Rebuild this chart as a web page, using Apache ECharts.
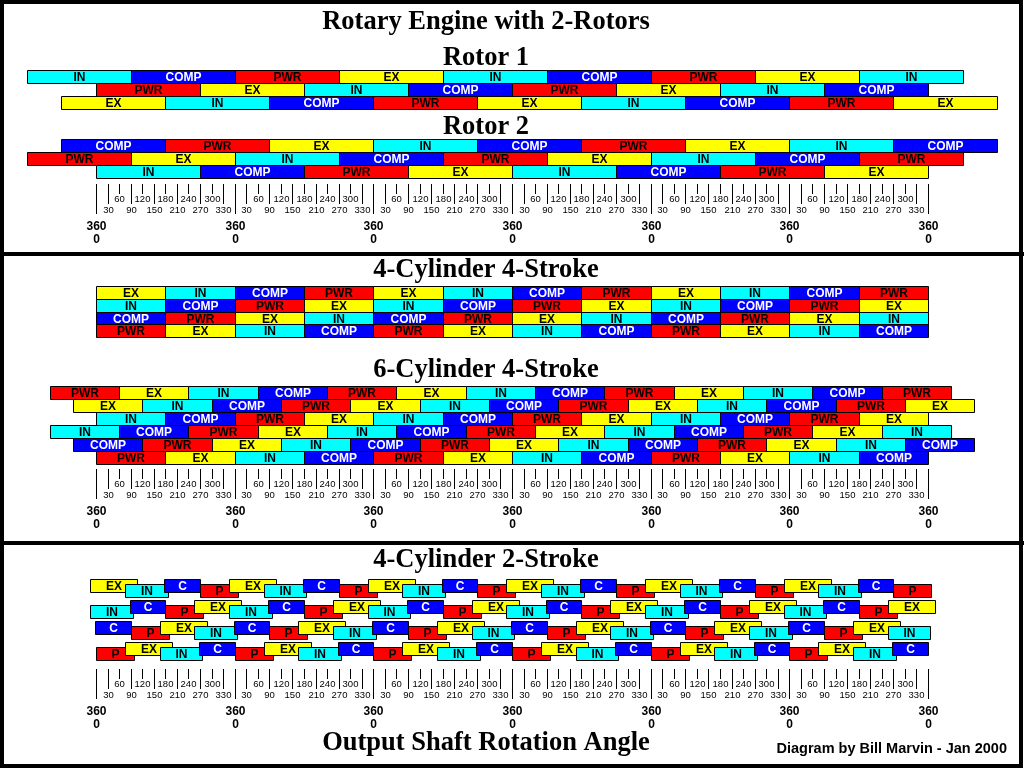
<!DOCTYPE html>
<html><head><meta charset="utf-8">
<script src="https://cdn.jsdelivr.net/npm/echarts@6/dist/echarts.min.js"></script>
<style>html,body{margin:0;padding:0;background:#fff}#c{width:1024px;height:768px}</style>
</head><body><div id="c"></div>
<script>
// ---------- data ----------
const shaftMin = 0, shaftMax = 2160;          // output shaft angle range (deg)
const rotorPhaseDeg = 270;                    // rotary: each phase lasts 270 shaft deg
const fourStrokePhaseDeg = 180;               // 4-stroke: each stroke lasts 180 deg

const rotor1Starts = [-180, 0, -90];
const rotor1Rows = [
  ['IN','COMP','PWR','EX','IN','COMP','PWR','EX','IN'],
  ['PWR','EX','IN','COMP','PWR','EX','IN','COMP'],
  ['EX','IN','COMP','PWR','EX','IN','COMP','PWR','EX']
];
const rotor2Starts = [-90, -180, 0];
const rotor2Rows = [
  ['COMP','PWR','EX','IN','COMP','PWR','EX','IN','COMP'],
  ['PWR','EX','IN','COMP','PWR','EX','IN','COMP','PWR'],
  ['IN','COMP','PWR','EX','IN','COMP','PWR','EX']
];
const cyl4Starts = [0, 0, 0, 0];
const cyl4Rows = [
  ['EX','IN','COMP','PWR','EX','IN','COMP','PWR','EX','IN','COMP','PWR'],
  ['IN','COMP','PWR','EX','IN','COMP','PWR','EX','IN','COMP','PWR','EX'],
  ['COMP','PWR','EX','IN','COMP','PWR','EX','IN','COMP','PWR','EX','IN'],
  ['PWR','EX','IN','COMP','PWR','EX','IN','COMP','PWR','EX','IN','COMP']
];
const cyl6Starts = [-120, -60, 0, -120, -60, 0];
const cyl6Rows = [
  ['PWR','EX','IN','COMP','PWR','EX','IN','COMP','PWR','EX','IN','COMP','PWR'],
  ['EX','IN','COMP','PWR','EX','IN','COMP','PWR','EX','IN','COMP','PWR','EX'],
  ['IN','COMP','PWR','EX','IN','COMP','PWR','EX','IN','COMP','PWR','EX'],
  ['IN','COMP','PWR','EX','IN','COMP','PWR','EX','IN','COMP','PWR','EX','IN'],
  ['COMP','PWR','EX','IN','COMP','PWR','EX','IN','COMP','PWR','EX','IN','COMP'],
  ['PWR','EX','IN','COMP','PWR','EX','IN','COMP','PWR','EX','IN','COMP']
];
// 4-cylinder 2-stroke: first-cycle events per cylinder [label, start, end]
const twoStrokeCycleDeg = 360;
const twoStrokeCycles = 6;
const twoStrokeCyl = [
  [['EX',-15,107],['IN',75,186],['C',177,270],['P',270,369]],
  [['IN',-15,96],['C',87,180],['P',180,279],['EX',255,377]],
  [['C',-3,90],['P',90,189],['EX',165,287],['IN',255,366]],
  [['P',0,99],['EX',75,197],['IN',165,276],['C',267,360]]
];
// ruler
const rulerCycleDeg = 360;
const rulerCycles = 6;
const rulerMinorLabels = ['30','60','90','120','150','180','210','240','270','300','330'];
const rulerMajorLabels = ['360','0'];

const titles = {
  main: 'Rotary Engine with 2-Rotors', rotor1: 'Rotor 1', rotor2: 'Rotor 2',
  c4s4: '4-Cylinder 4-Stroke', c6s4: '6-Cylinder 4-Stroke', c4s2: '4-Cylinder 2-Stroke',
  axis: 'Output Shaft Rotation Angle', credit: 'Diagram by Bill Marvin - Jan 2000'
};

// ---------- styles ----------
const fill = {IN:'#00ffff', COMP:'#0000ff', PWR:'#ff0000', EX:'#ffff00', C:'#0000ff', P:'#ff0000'};
const ink  = {IN:'#000', COMP:'#fff', PWR:'#000', EX:'#000', C:'#fff', P:'#000'};
const blockFont = 'bold 12px "Liberation Sans", Arial, sans-serif';
const upperLane = {EX:0, C:0, IN:1, P:1};

// ---------- build data ----------
function phaseBlocks(starts, rows, dur) {
  const data = [], labels = [];
  rows.forEach((row, r) => {
    row.forEach((lbl, i) => {
      const s = starts[r] + i * dur;
      data.push([s, s + dur, r]);
      labels.push(lbl);
    });
  });
  return {data, labels};
}
function twoStrokeBlocks() {
  const data = [], labels = [];
  twoStrokeCyl.forEach((evs, c) => {
    for (let k = 0; k < twoStrokeCycles; k++) {
      evs.forEach(ev => {
        data.push([ev[1] + k * twoStrokeCycleDeg, ev[2] + k * twoStrokeCycleDeg, c, upperLane[ev[0]]]);
        labels.push(ev[0]);
      });
    }
  });
  return {data, labels};
}
function rulerTicks() {
  const data = [], labels = [];
  for (let c = 0; c <= rulerCycles; c++) {
    data.push([c * rulerCycleDeg, 0]); labels.push(rulerMajorLabels);
    if (c < rulerCycles) {
      rulerMinorLabels.forEach((l, i) => {
        data.push([c * rulerCycleDeg + (i + 1) * 30, (i % 2 === 0) ? 1 : 2]);
        labels.push([l]);
      });
    }
  }
  return {data, labels};
}

const px = v => Math.round(v) + 0.5;

function blockRenderer(labels) {
  return function (params, api) {
    const p1 = api.coord([api.value(0), api.value(2)]);
    const p2 = api.coord([api.value(1), api.value(2) + 1]);
    const lbl = labels[params.dataIndex];
    const x1 = px(p1[0]), x2 = px(p2[0]), y1 = px(p1[1]), y2 = px(p2[1]);
    return {type:'group', children:[
      {type:'rect', shape:{x:x1, y:y1, width:x2-x1, height:y2-y1},
       style:{fill:fill[lbl], stroke:'#000', lineWidth:1}},
      {type:'text', style:{text:lbl, x:(x1+x2)/2, y:(y1+y2)/2 + 1, align:'center', verticalAlign:'middle',
       fill:ink[lbl], font:blockFont}}
    ]};
  };
}
function twoStrokeRenderer(labels) {
  const h = 13, laneOff = 5;
  return function (params, api) {
    const p1 = api.coord([api.value(0), api.value(2)]);
    const p2 = api.coord([api.value(1), api.value(2)]);
    const lbl = labels[params.dataIndex];
    const x1 = px(p1[0]), x2 = px(p2[0]);
    const y1 = px(p1[1] + api.value(3) * laneOff);
    return {type:'group', children:[
      {type:'rect', shape:{x:x1, y:y1, width:x2-x1, height:h},
       style:{fill:fill[lbl], stroke:'#000', lineWidth:1}},
      {type:'text', style:{text:lbl, x:(x1+x2)/2, y:y1 + h/2 + 1, align:'center', verticalAlign:'middle',
       fill:ink[lbl], font:blockFont}}
    ]};
  };
}
function rulerRenderer(labels) {
  const tickLen = [30, 20, 10];
  const majorFont = 'bold 12px "Liberation Sans", Arial, sans-serif';
  const minorFont = '9.5px "Liberation Sans", Arial, sans-serif';
  return function (params, api) {
    const p = api.coord([api.value(0), 0]);
    const top = params.coordSys.y;
    const kind = api.value(1);
    const x = px(p[0]);
    const lab = labels[params.dataIndex];
    const ch = [{type:'line', shape:{x1:x, y1:top, x2:x, y2:top + tickLen[kind]}, style:{stroke:'#000', lineWidth:1}}];
    if (kind === 0) {
      ch.push({type:'text', style:{text:lab[0], x:x, y:top + 43, align:'center', verticalAlign:'middle', fill:'#000', font:majorFont}});
      ch.push({type:'text', style:{text:lab[1], x:x, y:top + 56, align:'center', verticalAlign:'middle', fill:'#000', font:majorFont}});
    } else {
      ch.push({type:'text', style:{text:lab[0], x:x, y:top + (kind === 1 ? 26 : 15.5), align:'center', verticalAlign:'middle', fill:'#000', font:minorFont}});
    }
    return {type:'group', children:ch};
  };
}

// ---------- layout ----------
const gridDefs = [
  {top:70,  height:39,   rows:3},   // rotor 1
  {top:139, height:38.5, rows:3},   // rotor 2
  {top:184, height:30,   rows:1},   // ruler 1
  {top:286, height:51,   rows:4},   // 4-cyl 4-stroke
  {top:386, height:77.5, rows:6},   // 6-cyl 4-stroke
  {top:469, height:30,   rows:1},   // ruler 2
  {top:579, height:84,   rows:4},   // 4-cyl 2-stroke
  {top:669, height:30,   rows:1}    // ruler 3
];
const grid = gridDefs.map(g => ({left:96, width:832, top:g.top, height:g.height, show:false}));
const xAxis = gridDefs.map((g, i) => ({type:'value', gridIndex:i, min:shaftMin, max:shaftMax, show:false}));
const yAxis = gridDefs.map((g, i) => ({type:'value', gridIndex:i, min:0, max:g.rows, inverse:true, show:false}));

const r1 = phaseBlocks(rotor1Starts, rotor1Rows, rotorPhaseDeg);
const r2 = phaseBlocks(rotor2Starts, rotor2Rows, rotorPhaseDeg);
const c4 = phaseBlocks(cyl4Starts, cyl4Rows, fourStrokePhaseDeg);
const c6 = phaseBlocks(cyl6Starts, cyl6Rows, fourStrokePhaseDeg);
const t2 = twoStrokeBlocks();
const rl = rulerTicks();

function cs(idx, d, renderer) {
  return {type:'custom', coordinateSystem:'cartesian2d', xAxisIndex:idx, yAxisIndex:idx,
          clip:false, silent:true, data:d.data, renderItem:renderer(d.labels)};
}
const series = [
  cs(0, r1, blockRenderer), cs(1, r2, blockRenderer), cs(2, rl, rulerRenderer),
  cs(3, c4, blockRenderer), cs(4, c6, blockRenderer), cs(5, rl, rulerRenderer),
  cs(6, t2, twoStrokeRenderer), cs(7, rl, rulerRenderer)
];

const titleFont = 'bold 26.5px "Liberation Serif", "Times New Roman", serif';
function title(text, y) {
  return {type:'text', style:{text, x:486, y, align:'center', verticalAlign:'middle', font:titleFont, fill:'#000'}};
}
const graphic = [
  {type:'rect', shape:{x:2, y:2, width:1019, height:764}, style:{fill:'none', stroke:'#000', lineWidth:4}, z:100},
  {type:'line', shape:{x1:0, y1:254, x2:1024, y2:254}, style:{stroke:'#000', lineWidth:4}, z:100},
  {type:'line', shape:{x1:0, y1:543, x2:1024, y2:543}, style:{stroke:'#000', lineWidth:4}, z:100},
  title(titles.main, 22), title(titles.rotor1, 58), title(titles.rotor2, 127),
  title(titles.c4s4, 270), title(titles.c6s4, 370), title(titles.c4s2, 560), title(titles.axis, 743),
  {type:'text', style:{text:titles.credit, x:1007, y:749, align:'right', verticalAlign:'middle',
    font:'bold 14.5px "Liberation Sans", Arial, sans-serif', fill:'#000'}}
];

const chart = echarts.init(document.getElementById('c'), null, {renderer:'canvas'});
chart.setOption({animation:false, backgroundColor:'#fff', grid, xAxis, yAxis, series, graphic});
</script></body></html>
